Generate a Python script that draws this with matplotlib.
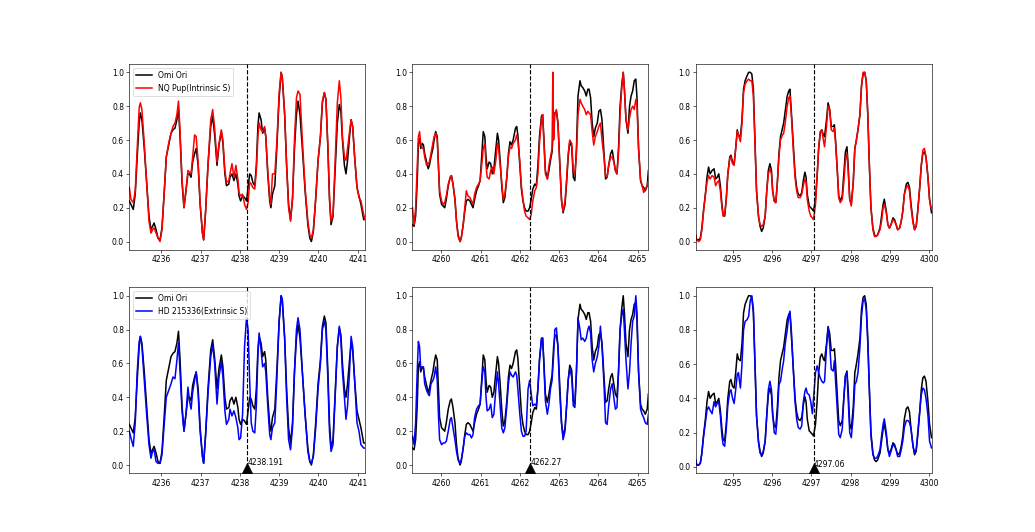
import matplotlib
matplotlib.use('Agg')
import matplotlib.pyplot as plt

# line centres (Angstrom) and their labels
centres = [4238.191, 4262.27, 4297.06]
centre_labels = ['4238.191', '4262.27', '4297.06']

# ---- window 1 : 4238.191 ----
wave_1 = [
    4235.19, 4235.23, 4235.29, 4235.34, 4235.39, 4235.44, 4235.47, 4235.51, 4235.57, 4235.63,
    4235.69, 4235.74, 4235.78, 4235.82, 4235.87, 4235.92, 4235.97, 4236.02, 4236.08, 4236.13,
    4236.19, 4236.25, 4236.30, 4236.35, 4236.40, 4236.44, 4236.48, 4236.53, 4236.58, 4236.63,
    4236.68, 4236.72, 4236.76, 4236.80, 4236.85, 4236.89, 4236.94, 4236.99, 4237.05, 4237.08,
    4237.13, 4237.19, 4237.26, 4237.31, 4237.36, 4237.42, 4237.47, 4237.53, 4237.57, 4237.62,
    4237.66, 4237.72, 4237.75, 4237.80, 4237.85, 4237.90, 4237.95, 4237.98, 4238.02, 4238.07,
    4238.12, 4238.17, 4238.21, 4238.25, 4238.29, 4238.33, 4238.38, 4238.42, 4238.46, 4238.49,
    4238.54, 4238.58, 4238.63, 4238.66, 4238.71, 4238.76, 4238.79, 4238.83, 4238.89, 4238.94,
    4239.00, 4239.05, 4239.08, 4239.14, 4239.19, 4239.24, 4239.29, 4239.34, 4239.39, 4239.44,
    4239.48, 4239.53, 4239.59, 4239.66, 4239.73, 4239.78, 4239.82, 4239.87, 4239.93, 4239.99,
    4240.05, 4240.10, 4240.15, 4240.19, 4240.24, 4240.28, 4240.32, 4240.37, 4240.42, 4240.48,
    4240.53, 4240.57, 4240.61, 4240.66, 4240.70, 4240.74, 4240.79, 4240.83, 4240.87, 4240.92,
    4240.98, 4241.03, 4241.08, 4241.15, 4241.19]
omi_1 = [
    0.24, 0.22, 0.19, 0.28, 0.50, 0.70, 0.76, 0.72, 0.55, 0.35,
    0.15, 0.07, 0.09, 0.11, 0.07, 0.02, 0.01, 0.08, 0.30, 0.50,
    0.57, 0.64, 0.66, 0.67, 0.72, 0.79, 0.62, 0.35, 0.20, 0.30,
    0.40, 0.40, 0.38, 0.47, 0.52, 0.55, 0.45, 0.22, 0.05, 0.01,
    0.18, 0.45, 0.68, 0.74, 0.63, 0.45, 0.57, 0.65, 0.58, 0.40,
    0.33, 0.34, 0.38, 0.40, 0.36, 0.40, 0.34, 0.27, 0.24, 0.27,
    0.26, 0.24, 0.32, 0.40, 0.39, 0.35, 0.33, 0.45, 0.68, 0.76,
    0.72, 0.64, 0.67, 0.62, 0.40, 0.24, 0.20, 0.28, 0.33, 0.55,
    0.85, 1.00, 0.97, 0.75, 0.45, 0.22, 0.13, 0.25, 0.55, 0.75,
    0.83, 0.75, 0.55, 0.30, 0.10, 0.02, 0.00, 0.06, 0.25, 0.48,
    0.62, 0.82, 0.88, 0.84, 0.55, 0.25, 0.10, 0.15, 0.40, 0.70,
    0.81, 0.77, 0.60, 0.45, 0.40, 0.48, 0.62, 0.72, 0.68, 0.50,
    0.32, 0.27, 0.22, 0.13, 0.13]
nq_1 = [
    0.32, 0.25, 0.23, 0.30, 0.55, 0.79, 0.82, 0.78, 0.58, 0.35,
    0.12, 0.05, 0.07, 0.08, 0.05, 0.02, 0.00, 0.07, 0.30, 0.50,
    0.58, 0.64, 0.68, 0.70, 0.75, 0.83, 0.65, 0.37, 0.20, 0.30,
    0.42, 0.41, 0.40, 0.50, 0.63, 0.62, 0.47, 0.23, 0.05, 0.01,
    0.18, 0.45, 0.72, 0.78, 0.67, 0.47, 0.58, 0.66, 0.60, 0.42,
    0.35, 0.36, 0.40, 0.46, 0.38, 0.45, 0.37, 0.29, 0.27, 0.28,
    0.22, 0.19, 0.23, 0.35, 0.34, 0.32, 0.31, 0.42, 0.62, 0.70,
    0.66, 0.65, 0.68, 0.62, 0.42, 0.26, 0.22, 0.40, 0.40, 0.58,
    0.88, 1.00, 0.97, 0.76, 0.45, 0.20, 0.12, 0.26, 0.60, 0.85,
    0.89, 0.87, 0.60, 0.32, 0.12, 0.04, 0.02, 0.07, 0.26, 0.48,
    0.62, 0.83, 0.88, 0.84, 0.56, 0.27, 0.12, 0.16, 0.45, 0.82,
    0.95, 0.85, 0.62, 0.50, 0.48, 0.55, 0.65, 0.72, 0.68, 0.50,
    0.32, 0.26, 0.24, 0.16, 0.13]
hd_1 = [
    0.20, 0.16, 0.11, 0.25, 0.55, 0.73, 0.76, 0.70, 0.50, 0.30,
    0.12, 0.04, 0.08, 0.09, 0.02, 0.01, 0.01, 0.06, 0.25, 0.40,
    0.44, 0.48, 0.52, 0.51, 0.62, 0.72, 0.55, 0.32, 0.20, 0.30,
    0.46, 0.38, 0.33, 0.43, 0.50, 0.55, 0.42, 0.20, 0.05, 0.01,
    0.18, 0.42, 0.64, 0.71, 0.60, 0.36, 0.52, 0.61, 0.52, 0.32,
    0.24, 0.27, 0.33, 0.29, 0.32, 0.28, 0.22, 0.15, 0.16, 0.30,
    0.70, 0.87, 0.80, 0.50, 0.25, 0.20, 0.19, 0.35, 0.65, 0.78,
    0.68, 0.58, 0.60, 0.55, 0.35, 0.18, 0.15, 0.22, 0.25, 0.50,
    0.85, 1.00, 0.98, 0.75, 0.40, 0.15, 0.09, 0.22, 0.55, 0.80,
    0.87, 0.80, 0.55, 0.30, 0.08, 0.02, 0.01, 0.05, 0.22, 0.45,
    0.60, 0.80, 0.85, 0.80, 0.50, 0.20, 0.08, 0.12, 0.38, 0.70,
    0.82, 0.74, 0.55, 0.40, 0.27, 0.35, 0.55, 0.76, 0.70, 0.50,
    0.25, 0.20, 0.12, 0.10, 0.10]

# ---- window 2 : 4262.27 ----
wave_2 = [
    4259.27, 4259.31, 4259.35, 4259.39, 4259.42, 4259.45, 4259.48, 4259.52, 4259.55, 4259.58,
    4259.63, 4259.67, 4259.70, 4259.74, 4259.79, 4259.82, 4259.86, 4259.90, 4259.93, 4259.96,
    4260.01, 4260.05, 4260.09, 4260.13, 4260.18, 4260.23, 4260.26, 4260.30, 4260.35, 4260.39,
    4260.43, 4260.48, 4260.51, 4260.56, 4260.60, 4260.64, 4260.68, 4260.73, 4260.77, 4260.81,
    4260.85, 4260.90, 4260.95, 4260.99, 4261.03, 4261.07, 4261.11, 4261.14, 4261.17, 4261.22,
    4261.26, 4261.30, 4261.34, 4261.39, 4261.43, 4261.46, 4261.50, 4261.54, 4261.58, 4261.62,
    4261.67, 4261.71, 4261.75, 4261.79, 4261.83, 4261.89, 4261.92, 4261.95, 4262.00, 4262.04,
    4262.08, 4262.12, 4262.16, 4262.21, 4262.25, 4262.29, 4262.33, 4262.38, 4262.42, 4262.46,
    4262.50, 4262.55, 4262.58, 4262.61, 4262.65, 4262.70, 4262.74, 4262.78, 4262.82, 4262.84,
    4262.86, 4262.89, 4262.93, 4262.97, 4263.01, 4263.06, 4263.10, 4263.15, 4263.19, 4263.23,
    4263.27, 4263.32, 4263.36, 4263.40, 4263.44, 4263.48, 4263.53, 4263.56, 4263.60, 4263.65,
    4263.69, 4263.73, 4263.76, 4263.80, 4263.84, 4263.88, 4263.92, 4263.97, 4264.01, 4264.05,
    4264.09, 4264.14, 4264.18, 4264.22, 4264.26, 4264.31, 4264.35, 4264.39, 4264.43, 4264.47,
    4264.51, 4264.55, 4264.59, 4264.63, 4264.66, 4264.70, 4264.75, 4264.79, 4264.83, 4264.87,
    4264.91, 4264.95, 4264.98, 4265.02, 4265.07, 4265.11, 4265.15, 4265.19, 4265.24, 4265.27]
omi_2 = [
    0.10, 0.09, 0.15, 0.35, 0.58, 0.61, 0.55, 0.58, 0.57, 0.52,
    0.47, 0.43, 0.45, 0.50, 0.55, 0.60, 0.65, 0.62, 0.45, 0.28,
    0.22, 0.21, 0.20, 0.25, 0.33, 0.38, 0.39, 0.34, 0.25, 0.12,
    0.04, 0.00, 0.02, 0.10, 0.18, 0.24, 0.25, 0.24, 0.22, 0.20,
    0.25, 0.30, 0.33, 0.36, 0.50, 0.65, 0.62, 0.50, 0.43, 0.47,
    0.46, 0.40, 0.43, 0.55, 0.64, 0.60, 0.48, 0.33, 0.23, 0.26,
    0.38, 0.52, 0.59, 0.57, 0.60, 0.67, 0.68, 0.63, 0.45, 0.31,
    0.24, 0.20, 0.18, 0.18, 0.20, 0.25, 0.31, 0.34, 0.33, 0.45,
    0.62, 0.74, 0.75, 0.62, 0.42, 0.37, 0.42, 0.48, 0.53, 0.62,
    0.70, 0.76, 0.77, 0.70, 0.50, 0.25, 0.17, 0.22, 0.35, 0.50,
    0.59, 0.56, 0.38, 0.36, 0.55, 0.86, 0.95, 0.92, 0.91, 0.89,
    0.86, 0.90, 0.90, 0.85, 0.70, 0.62, 0.67, 0.70, 0.77, 0.78,
    0.72, 0.53, 0.37, 0.38, 0.45, 0.52, 0.54, 0.48, 0.42, 0.40,
    0.55, 0.80, 0.92, 1.00, 0.90, 0.72, 0.64, 0.80, 0.86, 0.89,
    0.95, 0.96, 0.85, 0.55, 0.36, 0.33, 0.32, 0.30, 0.33, 0.42]
nq_2 = [
    0.20, 0.10, 0.20, 0.45, 0.62, 0.65, 0.58, 0.55, 0.55, 0.50,
    0.45, 0.46, 0.47, 0.52, 0.58, 0.62, 0.64, 0.60, 0.45, 0.30,
    0.24, 0.22, 0.23, 0.27, 0.34, 0.38, 0.39, 0.34, 0.25, 0.12,
    0.03, 0.00, 0.02, 0.10, 0.20, 0.30, 0.27, 0.26, 0.24, 0.22,
    0.28, 0.32, 0.34, 0.36, 0.45, 0.55, 0.58, 0.45, 0.38, 0.37,
    0.42, 0.44, 0.40, 0.48, 0.58, 0.55, 0.45, 0.35, 0.25, 0.28,
    0.38, 0.50, 0.56, 0.55, 0.58, 0.60, 0.63, 0.60, 0.47, 0.33,
    0.25, 0.18, 0.15, 0.14, 0.13, 0.16, 0.24, 0.30, 0.32, 0.40,
    0.58, 0.72, 0.75, 0.60, 0.40, 0.37, 0.45, 0.50, 0.55, 1.00,
    0.60, 0.75, 0.78, 0.70, 0.48, 0.24, 0.18, 0.24, 0.37, 0.52,
    0.60, 0.58, 0.42, 0.40, 0.52, 0.75, 0.84, 0.82, 0.80, 0.78,
    0.75, 0.77, 0.76, 0.75, 0.65, 0.57, 0.62, 0.65, 0.68, 0.70,
    0.60, 0.50, 0.39, 0.38, 0.45, 0.50, 0.50, 0.47, 0.42, 0.40,
    0.52, 0.75, 0.90, 1.00, 0.90, 0.72, 0.66, 0.73, 0.78, 0.80,
    0.78, 0.84, 0.80, 0.55, 0.37, 0.33, 0.29, 0.31, 0.33, 0.36]
hd_2 = [
    0.17, 0.12, 0.25, 0.55, 0.73, 0.70, 0.57, 0.58, 0.58, 0.48,
    0.44, 0.42, 0.41, 0.48, 0.50, 0.52, 0.58, 0.50, 0.30, 0.15,
    0.12, 0.13, 0.13, 0.14, 0.20, 0.27, 0.28, 0.22, 0.15, 0.08,
    0.03, 0.01, 0.03, 0.10, 0.17, 0.19, 0.18, 0.18, 0.16, 0.18,
    0.28, 0.33, 0.35, 0.36, 0.48, 0.58, 0.55, 0.40, 0.32, 0.33,
    0.36, 0.28, 0.30, 0.45, 0.55, 0.48, 0.35, 0.22, 0.19, 0.22,
    0.35, 0.48, 0.55, 0.53, 0.52, 0.55, 0.53, 0.45, 0.30, 0.20,
    0.17, 0.17, 0.20, 0.45, 0.50, 0.42, 0.35, 0.36, 0.35, 0.45,
    0.62, 0.75, 0.75, 0.60, 0.38, 0.30, 0.36, 0.45, 0.50, 0.58,
    0.65, 0.80, 0.81, 0.70, 0.45, 0.25, 0.15, 0.20, 0.35, 0.50,
    0.57, 0.52, 0.35, 0.34, 0.55, 0.87, 0.80, 0.74, 0.75, 0.73,
    0.75, 0.80, 0.82, 0.78, 0.62, 0.55, 0.60, 0.64, 0.70, 0.82,
    0.70, 0.48, 0.25, 0.24, 0.35, 0.45, 0.48, 0.40, 0.33, 0.34,
    0.55, 0.80, 0.88, 0.92, 0.80, 0.62, 0.45, 0.55, 0.72, 0.85,
    0.88, 1.00, 0.90, 0.55, 0.33, 0.30, 0.28, 0.25, 0.24, 0.30]

# ---- window 3 : 4297.06 ----
wave_3 = [
    4294.06, 4294.09, 4294.14, 4294.18, 4294.22, 4294.26, 4294.31, 4294.35, 4294.39, 4294.43,
    4294.48, 4294.53, 4294.57, 4294.61, 4294.65, 4294.69, 4294.73, 4294.76, 4294.80, 4294.84,
    4294.88, 4294.93, 4294.96, 4295.00, 4295.04, 4295.08, 4295.12, 4295.15, 4295.20, 4295.24,
    4295.28, 4295.32, 4295.37, 4295.41, 4295.45, 4295.49, 4295.53, 4295.57, 4295.61, 4295.66,
    4295.70, 4295.74, 4295.78, 4295.83, 4295.87, 4295.91, 4295.95, 4295.99, 4296.02, 4296.06,
    4296.10, 4296.14, 4296.18, 4296.22, 4296.27, 4296.30, 4296.34, 4296.39, 4296.43, 4296.46,
    4296.50, 4296.55, 4296.59, 4296.63, 4296.67, 4296.72, 4296.76, 4296.80, 4296.84, 4296.87,
    4296.90, 4296.95, 4296.99, 4297.03, 4297.06, 4297.11, 4297.15, 4297.19, 4297.23, 4297.27,
    4297.31, 4297.34, 4297.39, 4297.43, 4297.47, 4297.51, 4297.56, 4297.59, 4297.62, 4297.67,
    4297.70, 4297.74, 4297.79, 4297.83, 4297.87, 4297.91, 4297.94, 4297.98, 4298.02, 4298.07,
    4298.11, 4298.15, 4298.19, 4298.24, 4298.28, 4298.32, 4298.36, 4298.40, 4298.44, 4298.48,
    4298.52, 4298.57, 4298.61, 4298.65, 4298.69, 4298.75, 4298.79, 4298.83, 4298.86, 4298.91,
    4298.95, 4298.99, 4299.03, 4299.08, 4299.12, 4299.16, 4299.20, 4299.25, 4299.29, 4299.33,
    4299.37, 4299.42, 4299.46, 4299.50, 4299.54, 4299.59, 4299.63, 4299.67, 4299.71, 4299.76,
    4299.80, 4299.84, 4299.88, 4299.92, 4299.97, 4300.01, 4300.06]
omi_3 = [
    0.04, 0.01, 0.01, 0.02, 0.08, 0.18, 0.28, 0.38, 0.44, 0.40,
    0.42, 0.43, 0.37, 0.38, 0.40, 0.33, 0.22, 0.16, 0.15, 0.25,
    0.40, 0.50, 0.51, 0.47, 0.46, 0.55, 0.66, 0.63, 0.62, 0.72,
    0.90, 0.95, 0.98, 1.00, 1.00, 0.99, 0.90, 0.60, 0.30, 0.15,
    0.09, 0.06, 0.08, 0.15, 0.30, 0.42, 0.46, 0.42, 0.30, 0.24,
    0.23, 0.35, 0.52, 0.62, 0.67, 0.70, 0.77, 0.86, 0.89, 0.90,
    0.75, 0.55, 0.40, 0.32, 0.28, 0.27, 0.29, 0.36, 0.41, 0.38,
    0.28, 0.21, 0.20, 0.19, 0.18, 0.25, 0.38, 0.55, 0.64, 0.66,
    0.63, 0.62, 0.72, 0.82, 0.78, 0.68, 0.68, 0.69, 0.60, 0.40,
    0.27, 0.24, 0.27, 0.40, 0.53, 0.56, 0.45, 0.25, 0.22, 0.35,
    0.55, 0.60, 0.66, 0.75, 0.92, 0.99, 1.00, 0.95, 0.75, 0.45,
    0.20, 0.08, 0.04, 0.03, 0.04, 0.08, 0.15, 0.22, 0.25, 0.18,
    0.10, 0.08, 0.10, 0.14, 0.13, 0.10, 0.07, 0.08, 0.12, 0.18,
    0.28, 0.34, 0.35, 0.32, 0.22, 0.12, 0.07, 0.09, 0.18, 0.32,
    0.45, 0.52, 0.53, 0.50, 0.38, 0.25, 0.17]
nq_3 = [
    0.03, 0.01, 0.00, 0.01, 0.07, 0.17, 0.28, 0.35, 0.39, 0.37,
    0.39, 0.38, 0.33, 0.35, 0.36, 0.30, 0.20, 0.15, 0.16, 0.25,
    0.40, 0.49, 0.50, 0.46, 0.45, 0.55, 0.65, 0.63, 0.59, 0.70,
    0.88, 0.93, 0.95, 0.96, 0.95, 0.95, 0.86, 0.58, 0.30, 0.15,
    0.10, 0.09, 0.10, 0.15, 0.30, 0.40, 0.43, 0.40, 0.30, 0.24,
    0.23, 0.35, 0.50, 0.60, 0.63, 0.64, 0.70, 0.80, 0.85, 0.86,
    0.73, 0.52, 0.38, 0.30, 0.26, 0.26, 0.28, 0.33, 0.37, 0.35,
    0.25, 0.18, 0.15, 0.14, 0.13, 0.22, 0.38, 0.55, 0.65, 0.66,
    0.60, 0.56, 0.68, 0.80, 0.78, 0.66, 0.65, 0.67, 0.58, 0.40,
    0.26, 0.23, 0.25, 0.35, 0.48, 0.52, 0.42, 0.25, 0.21, 0.35,
    0.55, 0.60, 0.66, 0.75, 0.92, 1.00, 1.00, 0.95, 0.75, 0.45,
    0.20, 0.07, 0.03, 0.03, 0.04, 0.07, 0.12, 0.20, 0.22, 0.17,
    0.10, 0.08, 0.10, 0.13, 0.12, 0.10, 0.07, 0.08, 0.12, 0.18,
    0.28, 0.32, 0.33, 0.30, 0.20, 0.11, 0.07, 0.09, 0.18, 0.32,
    0.45, 0.54, 0.55, 0.50, 0.38, 0.25, 0.19]
hd_3 = [
    0.04, 0.01, 0.01, 0.02, 0.08, 0.17, 0.26, 0.33, 0.35, 0.33,
    0.31, 0.38, 0.35, 0.37, 0.38, 0.30, 0.18, 0.13, 0.12, 0.22,
    0.36, 0.44, 0.45, 0.40, 0.37, 0.45, 0.54, 0.55, 0.46, 0.60,
    0.80, 0.85, 0.86, 0.88, 0.97, 1.00, 0.92, 0.62, 0.30, 0.14,
    0.08, 0.07, 0.09, 0.15, 0.30, 0.45, 0.50, 0.45, 0.32, 0.20,
    0.19, 0.30, 0.48, 0.50, 0.58, 0.62, 0.72, 0.80, 0.88, 0.91,
    0.78, 0.55, 0.38, 0.28, 0.23, 0.22, 0.24, 0.38, 0.44, 0.46,
    0.43, 0.42, 0.38, 0.31, 0.40, 0.55, 0.59, 0.55, 0.52, 0.50,
    0.49, 0.50, 0.70, 0.81, 0.72, 0.57, 0.56, 0.62, 0.50, 0.30,
    0.19, 0.17, 0.22, 0.40, 0.53, 0.55, 0.40, 0.20, 0.17, 0.30,
    0.48, 0.50, 0.55, 0.70, 0.88, 0.97, 0.98, 0.92, 0.72, 0.45,
    0.18, 0.07, 0.05, 0.05, 0.06, 0.10, 0.18, 0.25, 0.28, 0.20,
    0.10, 0.06, 0.09, 0.13, 0.12, 0.10, 0.06, 0.06, 0.10, 0.15,
    0.23, 0.27, 0.27, 0.26, 0.22, 0.12, 0.08, 0.10, 0.20, 0.33,
    0.42, 0.46, 0.45, 0.40, 0.30, 0.15, 0.11]

waves = [wave_1, wave_2, wave_3]
omi = [omi_1, omi_2, omi_3]
intrinsic = [nq_1, nq_2, nq_3]
extrinsic = [hd_1, hd_2, hd_3]

dpi = 55
fig, axes = plt.subplots(2, 3, figsize=(1035 / dpi, 532 / dpi), dpi=dpi)

for i in range(3):
    top = axes[0, i]
    bot = axes[1, i]

    top.plot(waves[i], omi[i], color='k', lw=2, label='Omi Ori')
    top.plot(waves[i], intrinsic[i], color='r', lw=2, label='NQ Pup(Intrinsic S)')
    top.axvline(centres[i], color='k', linestyle='--')

    bot.plot(waves[i], omi[i], color='k', lw=2, label='Omi Ori')
    bot.plot(waves[i], extrinsic[i], color='b', lw=2, label='HD 215336(Extrinsic S)')
    bot.axvline(centres[i], color='k', linestyle='--')
    # marker sitting on the bottom spine (lower half clipped)
    bot.plot([centres[i]], [0], marker='^', color='k', markersize=26,
             transform=bot.get_xaxis_transform())
    bot.text(centres[i], 0, centre_labels[i])

    for ax in (top, bot):
        ax.set_xlim(centres[i] - 3, centres[i] + 3)

    if i == 0:
        top.legend(loc='upper left')
        bot.legend(loc='upper left')

fig.savefig('out.png', dpi=dpi)
